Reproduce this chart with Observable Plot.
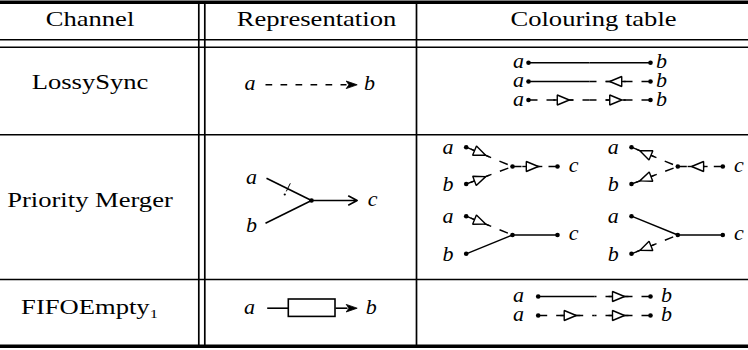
<!DOCTYPE html>
<html><head><meta charset="utf-8">
<script src="https://cdn.jsdelivr.net/npm/d3@7"></script>
<script src="https://cdn.jsdelivr.net/npm/@observablehq/plot@0.6"></script>
<style>body{margin:0;background:#fff;}</style>
</head><body><div id="chart"></div>
<script>
// ---------------- data ----------------
const headers = ["Channel", "Representation", "Colouring table"];
const channels = ["LossySync", "Priority Merger", "FIFOEmpty₁"];
const endLabels = ["a", "b", "c"];
// two-ended channels: [half at a, half at b]; "flow" = solid, "fwd"/"back" = no-flow with reason triangle
const lossySyncColourings = [["flow", "flow"], ["flow", "back"], ["fwd", "fwd"]];
const fifoEmptyColourings = [["flow", "fwd"], ["fwd", "fwd"]];
// priority merger colourings: [branch a, branch b, branch c]
const mergerColourings = [
  ["fwd", "fwd", "fwd"], ["back", "back", "back"],
  ["fwd", "flow", "flow"], ["flow", "back", "flow"]
];

// ---------------- layout ----------------
const W = 748, H = 350;
const colCenters = [89.5, 316, 593];
const ruleTop = 1.8, ruleBottom = 345.8;
const headRules = [39.3, 46.7], rowRules = [134.3, 279];
const vRulesDouble = [198.3, 204.3], vRuleSingle = 416;
const headerBaseline = 25.5;
const rowBaselines = [88, 206, 313.5];

let uid = 0;
const colLines = [], colDashed = [], repLines = [], repDashed = [], thinLines = [];
const whitePolys = [], blackPolys = [], dots = [], tinyDots = [], italic = [], roman = [];
const seg = (arr, p, q) => { const id = uid++; arr.push({id, x: p[0], y: p[1]}, {id, x: q[0], y: q[1]}); };
const poly = (arr, pts) => { const id = uid++; for (const p of [...pts, pts[0]]) arr.push({id, x: p[0], y: p[1]}); };
const add = (p, v, s = 1) => [p[0] + v[0] * s, p[1] + v[1] * s];
const unit = (p, q) => { const dx = q[0] - p[0], dy = q[1] - p[1], l = Math.hypot(dx, dy); return [dx / l, dy / l]; };
const perp = u => [-u[1], u[0]];

function reasonTriangle(c, dir) {
  const p = perp(dir);
  poly(whitePolys, [add(c, dir, 6), add(add(c, dir, -6), p, 5), add(add(c, dir, -6), p, -5)]);
}
function half(P, M, state, flowDir, frac) {
  if (state === "flow") { seg(colLines, P, M); return; }
  seg(colDashed, P, M);
  const u = unit(P, M), L = Math.hypot(M[0] - P[0], M[1] - P[1]);
  const c = add(P, u, L * frac);
  seg(colLines, add(c, u, -10), add(c, u, 10));
  reasonTriangle(c, state === "fwd" ? flowDir : [-flowDir[0], -flowDir[1]]);
}
function stealth(tip, dir) {
  const p = perp(dir);
  poly(blackPolys, [tip, add(add(tip, dir, -11), p, 3.8), add(tip, dir, -8.3), add(add(tip, dir, -11), p, -3.8)]);
}

// headers & channel names
headers.forEach((t, i) => roman.push({x: colCenters[i], y: headerBaseline, text: t}));
channels.forEach((t, i) => roman.push({x: colCenters[0], y: rowBaselines[i], text: t}));

// --- Representation column ---
// LossySync
{
  const y = 84.3;
  seg(repDashed, [265, y], [346, y]);
  stealth([356.7, y], [1, 0]);
  italic.push({x: 249.5, y: y + 5.5, text: endLabels[0]}, {x: 369, y: y + 5.5, text: endLabels[1]});
}
// Priority merger
const repArrows = [];
{
  const node = [311, 200], A = [266, 177.7], B = [265, 222.7];
  seg(repLines, A, node); seg(repLines, B, node);
  repArrows.push({x1: node[0], y1: node[1], x2: 356.7, y2: node[1]});
  dots.push({x: node[0], y: node[1]});
  const u = unit(A, node), p = perp(u), c0 = add(A, u, 0.47 * Math.hypot(node[0] - A[0], node[1] - A[1]));
  seg(thinLines, add(c0, p, -6), add(c0, p, 3));
  tinyDots.push({x: add(c0, p, 6.5)[0], y: add(c0, p, 6.5)[1]});
  italic.push({x: 251, y: 183, text: endLabels[0]}, {x: 251, y: 231, text: endLabels[1]}, {x: 372, y: 205, text: endLabels[2]});
}
// FIFOEmpty1
const repRects = [];
{
  const y = 307.7;
  seg(repLines, [266.7, y], [288.3, y]);
  repRects.push({x1: 288.3, x2: 335, y1: 299, y2: 316.4});
  seg(repLines, [335, y], [347, y]);
  stealth([356.7, y], [1, 0]);
  italic.push({x: 249, y: 313.3, text: endLabels[0]}, {x: 370.7, y: 313.3, text: endLabels[1]});
}

// --- Colouring column ---
function twoEnded(colourings, ys, aDotX, bDotX, aLabX, bLabX) {
  colourings.forEach(([ha, hb], i) => {
    const y = ys[i], A = [aDotX, y], B = [bDotX, y], M = [(aDotX + bDotX) / 2, y];
    half(A, M, ha, [1, 0], 0.57);
    half(B, M, hb, [1, 0], 0.57);
    dots.push({x: A[0], y}, {x: B[0], y});
    italic.push({x: aLabX, y: y + 5.5, text: endLabels[0]}, {x: bLabX, y: y + 5.5, text: endLabels[1]});
  });
}
twoEnded(lossySyncColourings, [62.3, 81, 99.5], 528, 650, 518, 661);
twoEnded(fifoEmptyColourings, [296, 315], 537.7, 650, 518, 666);

const gridDotX = [465.7, 631];
const gridRowY = [[146.7, 183.5, 166], [215.7, 253.3, 234.5]];
mergerColourings.forEach(([sa, sb, sc], k) => {
  const dx = gridDotX[k % 2], [ya, yb, yn] = gridRowY[Math.floor(k / 2)];
  const A = [dx, ya], B = [dx, yb], N = [dx + 46.3, yn], C = [dx + 91.3, yn];
  half(A, N, sa, unit(A, N), 0.3);
  half(B, N, sb, unit(B, N), 0.3);
  half(C, N, sc, [1, 0], 0.56);
  dots.push({x: A[0], y: A[1]}, {x: B[0], y: B[1]}, {x: N[0], y: N[1]}, {x: C[0], y: C[1]});
  italic.push({x: dx - 18.2, y: ya + 6.8, text: endLabels[0]},
              {x: dx - 18.2, y: yb + 6.8, text: endLabels[1]},
              {x: C[0] + 16, y: yn + 5.2, text: endLabels[2]});
});

const lineOpts = {x: "x", y: "y", z: "id", stroke: "black", strokeLinecap: "butt", strokeLinejoin: "miter"};

const chart = Plot.plot({
  width: W, height: H, margin: 0,
  x: {domain: [0, W], range: [0, W], axis: null},
  y: {domain: [0, H], range: [0, H], axis: null},
  style: {background: "white", overflow: "visible"},
  marks: [
    // table rules
    Plot.ruleY([ruleTop, ruleBottom], {x1: 0, x2: W, strokeWidth: 3.5, stroke: "black"}),
    Plot.ruleY([...headRules, ...rowRules], {x1: 0, x2: W, strokeWidth: 1.6, stroke: "black"}),
    Plot.ruleX([...vRulesDouble, vRuleSingle], {y1: ruleTop, y2: ruleBottom, strokeWidth: 1.7, stroke: "black"}),
    // representation
    Plot.line(repLines, {...lineOpts, strokeWidth: 1.6}),
    Plot.line(repDashed, {...lineOpts, strokeWidth: 1.6, strokeDasharray: "6.7,8.3"}),
    Plot.arrow(repArrows, {x1: "x1", y1: "y1", x2: "x2", y2: "y2", stroke: "black", strokeWidth: 1.6, headLength: 9, headAngle: 55}),
    Plot.rect(repRects, {x1: "x1", x2: "x2", y1: "y1", y2: "y2", fill: "white", stroke: "black", strokeWidth: 1.6}),
    Plot.line(thinLines, {...lineOpts, strokeWidth: 1}),
    // colouring
    Plot.line(colDashed, {...lineOpts, strokeWidth: 1.4, strokeDasharray: "9,9"}),
    Plot.line(colLines, {...lineOpts, strokeWidth: 1.4}),
    Plot.line(whitePolys, {...lineOpts, fill: "white", strokeWidth: 1.4}),
    Plot.line(blackPolys, {...lineOpts, fill: "black", strokeWidth: 0.8}),
    Plot.dot(dots, {x: "x", y: "y", r: 2.3, fill: "black"}),
    Plot.dot(tinyDots, {x: "x", y: "y", r: 1.1, fill: "black"}),
    // text
    Plot.text(roman, {x: "x", y: "y", text: "text", textAnchor: "middle", lineAnchor: "bottom",
      fontFamily: "Liberation Serif", fontSize: 20, fill: "black"}),
    Plot.text(italic, {x: "x", y: "y", text: "text", textAnchor: "middle", lineAnchor: "bottom",
      fontFamily: "Liberation Serif", fontStyle: "italic", fontSize: 22, fill: "black"})
  ]
});
// widen the roman (table text) glyphs horizontally around their anchor, like the reference typeface
chart.querySelectorAll('g[aria-label="text"]').forEach(g => {
  if (g.getAttribute("font-style") === "italic") return;
  g.querySelectorAll("text").forEach(t => {
    const tr = t.getAttribute("transform") || "";
    t.setAttribute("transform", tr + " scale(1.33,1)");
  });
});
document.getElementById("chart").append(chart);
</script>
</body></html>
